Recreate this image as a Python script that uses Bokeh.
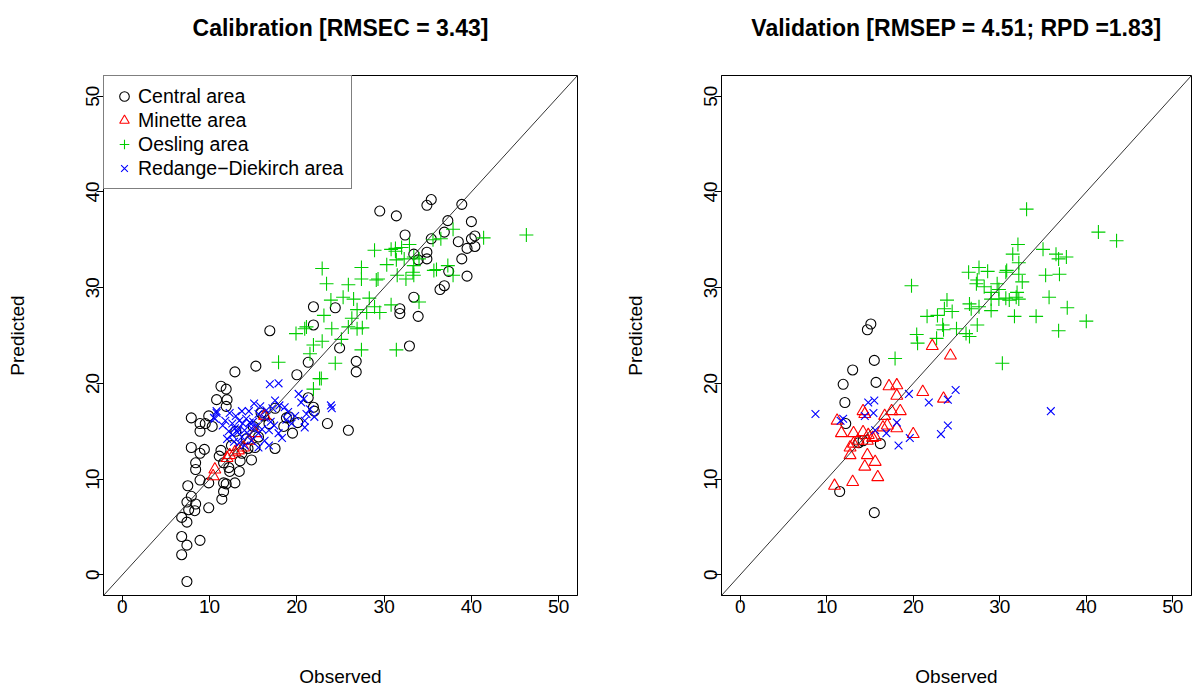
from bokeh.plotting import figure
from bokeh.models import Slope, Legend, LegendItem, Title, FixedTicker, Range1d
from bokeh.layouts import row
from bokeh.embed import file_html
from bokeh.resources import INLINE

# ---------------- Calibration data ----------------
cal_central_x = [21.9, 21.9, 16.9, 15.3, 12.9, 20.0, 21.3, 11.3, 11.9, 10.8, 12.0, 11.9, 7.9, 8.9, 9.5, 8.9, 9.9,
                 7.9, 9.4, 8.9, 11.3, 11.1, 11.6, 8.4, 8.4, 8.9, 9.9, 11.6, 11.9, 11.6, 11.4, 12.3, 13.4, 12.9, 7.5,
                 7.4, 7.9, 8.4, 7.6, 8.3, 9.9, 6.8, 7.4, 8.9, 6.8, 7.4, 6.8, 7.4, 13.7, 14.4, 19.1, 21.3, 22.0,
                 23.5, 20.1, 17.5, 15.9, 16.2, 15.2, 15.6,
                 29.5, 31.4, 34.9, 35.4, 38.9, 37.3, 36.9, 40.0, 38.5, 40.0, 40.4, 40.4, 39.5, 38.9, 39.5, 36.4,
                 36.9, 37.4, 35.4, 33.4, 34.9, 34.9, 33.9, 32.4, 33.4, 31.8, 31.8, 33.9, 32.9, 24.4, 24.9, 26.8,
                 26.8, 25.9, 21.9, 18.8,
                 13.0, 14.2, 12.5, 15.0, 16.8, 18.5, 19.5, 17.5, 13.5, 14.8, 12.2, 10.3]
cal_central_y = [28.0, 26.1, 25.5, 21.8, 21.2, 20.9, 22.2, 19.7, 19.4, 18.3, 18.3, 17.6, 16.4, 15.8, 15.8, 15.0, 16.6,
                 13.3, 13.1, 12.7, 13.0, 12.4, 11.7, 11.7, 11.0, 9.9, 9.6, 9.6, 9.5, 8.7, 7.9, 10.8, 10.8, 9.6, 9.3,
                 7.6, 8.2, 7.4, 6.8, 6.7, 7.0, 6.0, 5.5, 3.6, 4.0, 3.1, 2.1, -0.7, 12.7, 13.2, 16.5, 18.5, 17.1,
                 15.8, 15.9, 17.4, 16.9, 16.6, 13.3, 14.4,
                 38.0, 37.5, 38.6, 39.2, 38.7, 37.0, 35.8, 36.9, 34.8, 35.1, 35.4, 34.3, 34.1, 33.0, 31.2, 29.8,
                 30.2, 31.7, 35.1, 33.5, 33.7, 33.0, 32.9, 35.5, 29.0, 27.8, 27.3, 27.0, 23.9, 27.9, 23.7, 22.3,
                 21.2, 15.1, 17.5, 16.4,
                 15.0, 14.2, 13.5, 15.5, 15.8, 15.5, 14.8, 13.2, 11.9, 12.0, 11.2, 15.5]

cal_minette_x = [10.6, 10.4, 12.3, 12.9, 13.3, 13.9, 14.5, 15.2, 16.3, 12.0]
cal_minette_y = [11.0, 10.3, 12.5, 12.8, 13.0, 13.3, 14.0, 14.8, 16.6, 12.2]

cal_oesling_x = [46.3, 41.4, 37.9, 36.5, 35.6, 28.9, 30.8, 31.3, 31.3, 32.9, 32.0, 30.3, 31.4, 32.3, 33.4, 34.0,
                 33.4, 33.3, 35.7, 36.0, 37.3, 37.9, 31.5, 32.5, 33.4, 22.9, 23.4, 25.9, 27.4, 27.4, 29.1, 29.3,
                 25.3, 26.5, 23.9, 28.3, 28.9, 29.5, 30.8, 34.0, 23.1, 26.9, 28.0, 26.3, 25.9, 26.9, 27.5, 21.1,
                 19.9, 24.0, 22.9, 21.9, 25.1, 21.5, 27.4, 31.4, 24.4, 17.9, 22.6, 22.8, 21.9, 20.9]
cal_oesling_y = [35.5, 35.2, 36.1, 35.1, 35.0, 33.9, 34.0, 33.8, 34.1, 34.5, 34.2, 32.4, 32.9, 33.0, 33.2, 33.0,
                 32.3, 31.6, 31.8, 31.9, 32.3, 31.3, 31.3, 30.9, 31.3, 32.0, 30.4, 30.3, 32.1, 30.9, 30.8, 30.9,
                 29.0, 28.8, 28.7, 28.9, 28.0, 27.4, 28.2, 28.5, 27.1, 27.7, 27.4, 26.8, 25.9, 25.7, 25.8, 25.9,
                 25.2, 25.7, 24.4, 24.0, 24.6, 23.1, 23.5, 23.5, 22.1, 22.2, 20.5, 20.5, 19.4, 25.7]

cal_redange_x = [16.9, 17.9, 24.0, 23.9, 18.0, 18.6, 20.2, 20.8, 20.5, 19.4, 20.9, 21.1, 20.9, 18.3, 17.9, 16.8,
                 17.4, 16.3, 15.6, 15.1, 14.5, 13.7, 13.4, 12.6, 11.8, 10.8, 10.6, 12.9, 14.0, 14.8, 15.6, 14.8,
                 13.7, 12.6, 13.4, 16.3, 16.8, 15.6, 17.5, 10.5, 10.8, 12.2, 13.0, 14.2, 15.0, 13.2, 14.5, 12.8,
                 14.0, 15.3, 16.0, 11.5, 13.8, 12.3, 16.5, 19.0, 18.8, 21.5, 22.0, 19.8, 17.0, 14.6, 13.3, 12.0,
                 15.8, 17.2]
cal_redange_y = [19.9, 20.0, 17.4, 17.7, 17.7, 17.5, 18.9, 18.4, 18.0, 15.8, 15.4, 16.8, 16.1, 14.3, 14.8, 15.1,
                 15.6, 16.4, 16.8, 17.9, 17.1, 17.1, 16.1, 15.8, 16.1, 16.9, 16.3, 15.3, 15.1, 15.3, 14.8, 14.0,
                 14.4, 14.6, 13.8, 14.0, 13.5, 13.3, 18.2, 16.4, 17.1, 15.0, 16.6, 16.3, 16.0, 14.9, 14.6, 13.9,
                 13.5, 15.5, 15.2, 15.6, 15.8, 16.9, 17.2, 17.0, 16.2, 17.3, 16.5, 16.6, 16.0, 15.9, 15.2, 14.2,
                 17.6, 17.4]

# ---------------- Validation data ----------------
val_central_x = [15.5, 13.0, 11.9, 15.7, 12.1, 12.2, 16.2, 13.7, 14.2, 11.5, 15.5, 14.7, 15.1]
val_central_y = [22.4, 21.4, 19.9, 20.1, 18.0, 15.8, 13.7, 13.8, 14.0, 8.7, 6.5, 25.6, 26.2]

val_minette_x = [22.2, 24.3, 17.2, 18.1, 18.1, 21.1, 23.5, 18.5, 17.5, 14.2, 14.4, 11.2, 16.7, 17.0, 18.1, 16.5,
                 20.0, 11.7, 13.1, 14.2, 14.8, 15.3, 13.6, 13.1, 12.7, 14.7, 15.6, 12.7, 14.7, 15.6, 14.4, 15.9,
                 13.0, 10.9]
val_minette_y = [23.9, 22.9, 19.7, 19.8, 18.7, 19.1, 18.4, 17.1, 17.1, 17.1, 16.8, 16.1, 16.6, 15.6, 15.3, 15.4,
                 14.7, 14.8, 14.8, 14.9, 14.6, 14.3, 14.0, 13.7, 13.3, 14.0, 14.4, 12.5, 12.5, 11.8, 11.3, 10.2,
                 9.7, 9.3]

val_oesling_x = [33.1, 41.4, 43.5, 32.1, 35.0, 31.5, 36.5, 36.8, 37.7, 32.2, 27.6, 28.6, 26.4, 30.8, 30.7, 32.2,
                 35.3, 36.9, 27.4, 27.3, 28.2, 29.7, 29.9, 29.0, 32.6, 32.0, 31.9, 32.2, 30.7, 31.1, 29.0, 29.9,
                 19.8, 35.7, 37.8, 40.0, 34.2, 31.7, 36.8, 27.6, 29.0, 26.5, 26.7, 23.9, 23.6, 24.5, 22.8, 21.6,
                 23.4, 23.5, 25.0, 27.4, 26.1, 26.5, 20.4, 20.5, 22.7, 17.9, 30.3]
val_oesling_y = [38.2, 35.8, 34.9, 34.5, 34.0, 33.5, 33.5, 33.0, 33.2, 32.6, 32.1, 31.7, 31.6, 31.8, 31.6, 31.4,
                 31.3, 31.4, 30.8, 30.4, 30.1, 30.4, 29.8, 29.5, 30.6, 29.5, 29.0, 28.8, 28.9, 28.7, 28.8, 28.8,
                 30.2, 29.0, 27.9, 26.5, 27.0, 27.0, 25.5, 28.0, 27.6, 28.3, 27.8, 28.7, 27.8, 27.5, 27.1, 27.0,
                 26.1, 25.6, 25.7, 26.1, 25.2, 24.9, 25.1, 24.2, 24.7, 22.6, 22.1]

val_redange_x = [8.7, 11.9, 11.6, 14.8, 15.5, 14.4, 15.4, 19.5, 21.8, 24.0, 24.9, 18.1, 16.9, 15.6, 18.3, 19.6,
                 23.2, 24.0, 35.9]
val_redange_y = [16.8, 16.3, 16.1, 18.0, 18.2, 16.6, 16.9, 18.9, 18.0, 18.3, 19.3, 15.9, 14.8, 15.1, 13.5, 14.3,
                 14.7, 15.6, 17.1]

titles = ["Calibration [RMSEC = 3.43]", "Validation [RMSEP = 4.51; RPD =1.83]"]
legend_labels = ["Central area", "Minette area", "Oesling area", "Redange\u2212Diekirch area"]
ticks = [0, 10, 20, 30, 40, 50]

FONT = "Liberation Sans"
COLORS = ["#000000", "#FF0000", "#00CD00", "#0000FF"]
MARKERS = ["circle", "triangle", "cross", "x"]
SIZES = [10, 12, 14, 11]


def make_panel(title, series, width, left, right, with_legend):
    p = figure(width=width, height=689, output_backend="svg", toolbar_location=None,
               x_range=Range1d(-2.16, 52.16), y_range=Range1d(-2.16, 52.16),
               min_border_left=left, min_border_right=right, min_border_top=75, min_border_bottom=94)
    p.background_fill_color = "white"
    p.border_fill_color = "white"
    p.outline_line_color = "#000000"
    p.outline_line_width = 1
    p.grid.visible = False

    # spacer between frame and title (added first -> closest to frame)
    spacer = Title(text=" ", text_font_size="1px", standoff=32, text_color="white")
    p.add_layout(spacer, "above")
    t = Title(text=title, align="center", text_font=FONT, text_font_style="bold",
              text_font_size="23px", text_color="#000000", standoff=0)
    p.add_layout(t, "above")

    for ax in (p.xaxis[0], p.yaxis[0]):
        ax.ticker = FixedTicker(ticks=ticks)
        ax.minor_tick_line_color = None
        ax.major_tick_out = 7
        ax.major_tick_in = 0
        ax.major_tick_line_color = "#000000"
        ax.axis_line_color = "#000000"
        ax.major_label_text_font = FONT
        ax.major_label_text_font_size = "19px"
        ax.major_label_text_color = "#000000"
        ax.axis_label_text_font = FONT
        ax.axis_label_text_font_size = "19px"
        ax.axis_label_text_font_style = "normal"
        ax.axis_label_text_color = "#000000"
    p.xaxis.axis_label = "Observed"
    p.yaxis.axis_label = "Predicted"
    p.yaxis.major_label_orientation = "parallel"
    p.xaxis.major_label_standoff = -3
    p.yaxis.major_label_standoff = -3
    p.xaxis.axis_label_standoff = 50
    p.yaxis.axis_label_standoff = 56

    p.add_layout(Slope(gradient=1, y_intercept=0, line_color="#333333", line_width=1))

    items = []
    for (xs, ys), color, marker, size, lab_txt in zip(series, COLORS, MARKERS, SIZES, legend_labels):
        r = p.scatter(xs, ys, marker=marker, size=size, line_color=color, fill_color=None,
                      line_width=1.1)
        items.append(LegendItem(label=lab_txt, renderers=[r]))

    if with_legend:
        leg = Legend(items=items, location="top_left", margin=0, padding=8, spacing=0,
                     glyph_width=24, glyph_height=24, label_standoff=2,
                     label_text_font=FONT, label_text_font_size="19.5px", label_text_color="#000000",
                     border_line_color="#000000", border_line_width=1,
                     background_fill_color="white", background_fill_alpha=1.0)
        p.add_layout(leg, "center")
    return p


left = make_panel(titles[0],
                  [(cal_central_x, cal_central_y), (cal_minette_x, cal_minette_y),
                   (cal_oesling_x, cal_oesling_y), (cal_redange_x, cal_redange_y)],
                  597, 103, 20, True)
right = make_panel(titles[1],
                   [(val_central_x, val_central_y), (val_minette_x, val_minette_y),
                    (val_oesling_x, val_oesling_y), (val_redange_x, val_redange_y)],
                   598, 124, 4, False)

layout = row(left, right)
open("out.html", "w").write(file_html(layout, INLINE))
